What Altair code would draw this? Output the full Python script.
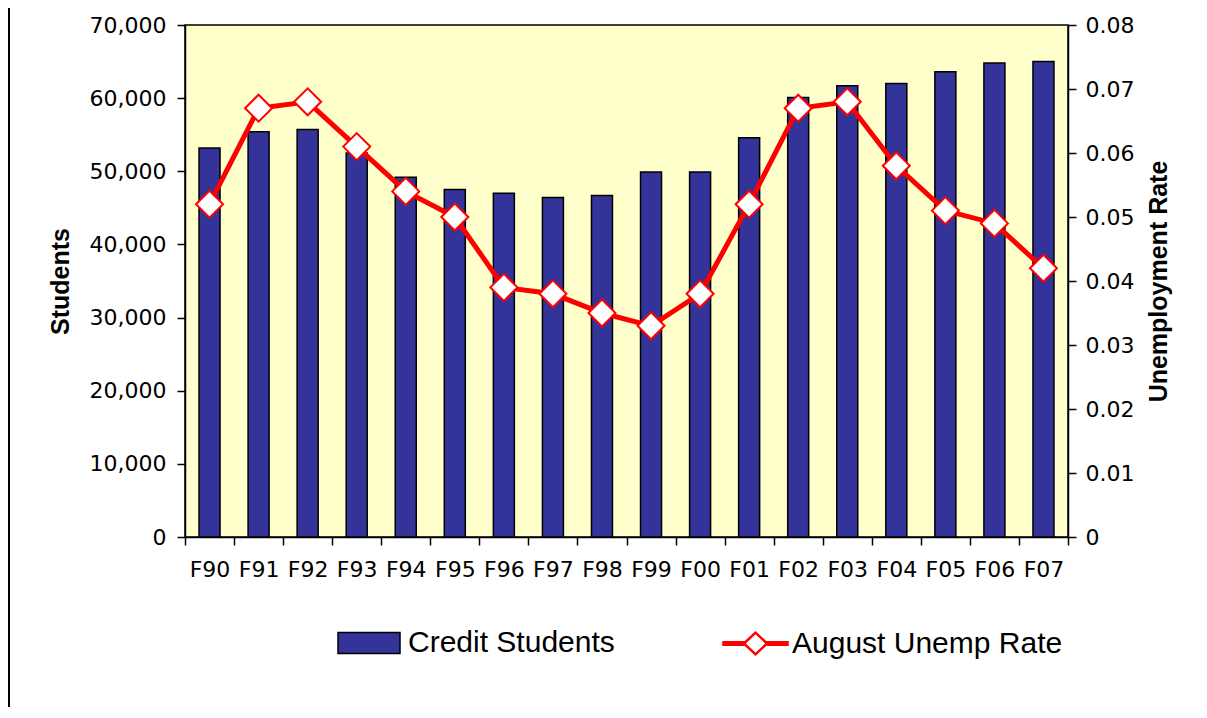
import altair as alt
import pandas as pd

cats = ["F90", "F91", "F92", "F93", "F94", "F95", "F96", "F97", "F98", "F99",
        "F00", "F01", "F02", "F03", "F04", "F05", "F06", "F07"]
students = [53200, 55400, 55700, 52500, 49200, 47500, 47000, 46400, 46700, 49900,
            49900, 54600, 60100, 61700, 62000, 63600, 64800, 65000]
rates = [0.052, 0.067, 0.068, 0.061, 0.054, 0.050, 0.039, 0.038, 0.035, 0.033,
         0.038, 0.052, 0.067, 0.068, 0.058, 0.051, 0.049, 0.042]
left_ticks = [0, 10000, 20000, 30000, 40000, 50000, 60000, 70000]
right_ticks = [0, 0.01, 0.02, 0.03, 0.04, 0.05, 0.06, 0.07, 0.08]

df = pd.DataFrame({"Year": cats, "Students": students, "Rate": rates})
df["bar_series"] = "Credit Students"
df["line_series"] = "August Unemp Rate"

TICK_FONT = "DejaVu Sans"
TITLE_FONT = "Liberation Sans"

LINE_SYMBOL = ("M-1,-0.04L-0.36,-0.04L-0.36,0.04L-1,0.04Z "
               "M0.36,-0.04L1,-0.04L1,0.04L0.36,0.04Z "
               "M-0.36,0L0,-0.34L0.36,0L0,0.34Z")

x_enc = alt.X(
    "Year:N", sort=cats,
    scale=alt.Scale(paddingInner=0, paddingOuter=0),
    axis=alt.Axis(title=None, labelAngle=0, tickBand="extent", tickSize=8,
                  labelPadding=14, labelFont=TICK_FONT, labelFontSize=22,
                  labelColor="black", domainColor="black", tickColor="black",
                  domainWidth=1.5, tickWidth=1.5, grid=False),
)

bars = alt.Chart(df).mark_bar(size=21, stroke="black", strokeWidth=1.5).encode(
    x=x_enc,
    y=alt.Y("Students:Q", scale=alt.Scale(domain=[0, 70000], nice=False),
            axis=alt.Axis(title="Students", values=left_ticks, format=",.0f",
                          tickSize=8, labelPadding=11, labelFont=TICK_FONT,
                          labelFontSize=22, labelColor="black",
                          domainColor="black", tickColor="black",
                          domainWidth=1.5, tickWidth=1.5, grid=False,
                          titleFont=TITLE_FONT, titleFontSize=25,
                          titleFontWeight="bold", titleColor="black",
                          titlePadding=16)),
    fill=alt.Fill("bar_series:N",
                  scale=alt.Scale(domain=["Credit Students"], range=["#333399"]),
                  legend=alt.Legend(orient="none", legendX=152, legendY=586,
                                    title=None, padding=0,
                                    symbolType="M-1,-0.34L1,-0.34L1,0.34L-1,0.34Z",
                                    symbolSize=3844, symbolStrokeColor="black",
                                    symbolStrokeWidth=1.5, symbolOpacity=1,
                                    labelFont=TITLE_FONT, labelFontSize=30,
                                    labelColor="black", labelOffset=7,
                                    labelLimit=400)),
)

line = alt.Chart(df).mark_line(strokeWidth=5).encode(
    x=x_enc,
    y=alt.Y("Rate:Q", scale=alt.Scale(domain=[0, 0.08], nice=False),
            axis=alt.Axis(orient="right", title="Unemployment Rate",
                          values=right_ticks, format=".2~f", tickSize=8,
                          labelPadding=9, labelFont=TICK_FONT, labelFontSize=22,
                          labelColor="black", domainColor="black",
                          tickColor="black", domainWidth=1.5, tickWidth=1.5,
                          grid=False, titleFont=TITLE_FONT, titleFontSize=25,
                          titleFontWeight="bold", titleColor="black",
                          titleAngle=270, titleBaseline="top",
                          titlePadding=13)),
    stroke=alt.Stroke("line_series:N",
                      scale=alt.Scale(domain=["August Unemp Rate"], range=["#FF0000"]),
                      legend=alt.Legend(orient="none", legendX=537, legendY=585,
                                        title=None, padding=0,
                                        symbolType=LINE_SYMBOL, symbolSize=4096,
                                        symbolStrokeWidth=2.5,
                                        symbolFillColor="white",
                                        labelFont=TITLE_FONT, labelFontSize=30,
                                        labelColor="black", labelOffset=3,
                                        labelLimit=400)),
)

points = alt.Chart(df).mark_point(filled=True, fill="white", stroke="#FF0000",
                                  strokeWidth=2, size=729, opacity=1).encode(
    x=x_enc,
    y=alt.Y("Rate:Q", scale=alt.Scale(domain=[0, 0.08], nice=False), axis=None),
    shape=alt.value("diamond"),
)

border = alt.Chart(pd.DataFrame({"a": [0]})).mark_rule(
    color="black", strokeWidth=2).encode(
    x=alt.value(-176), y=alt.value(-17), y2=alt.value(690))

chart = alt.layer(bars, line, points, border).resolve_scale(
    y="independent"
).properties(
    width=883, height=512,
    padding={"left": 177, "top": 17, "right": 125, "bottom": 170},
    autosize=alt.AutoSizeParams(type="none"),
    background="white",
).configure_view(
    fill="#FFFFCC", stroke="black", strokeWidth=1.5
)

chart.save("out.html", embed_options={"renderer": "svg", "actions": False})
